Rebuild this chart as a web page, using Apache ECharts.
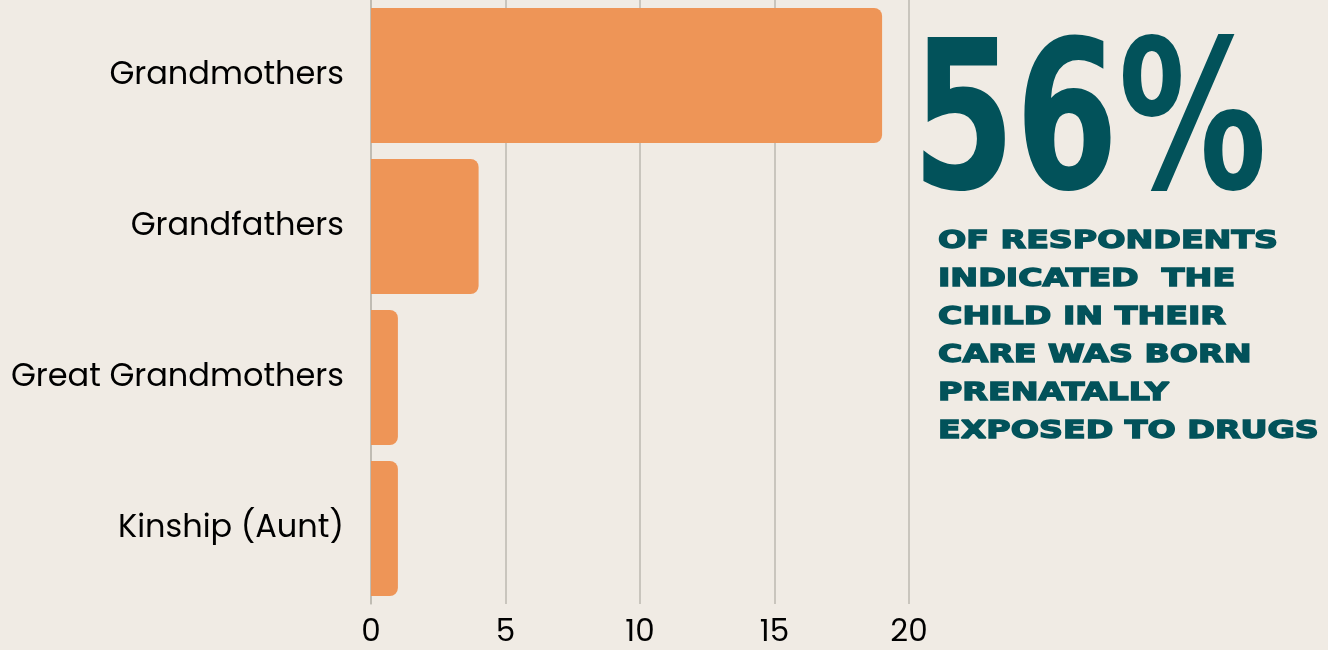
<!DOCTYPE html>
<html>
<head>
<meta charset="utf-8">
<script src="https://cdn.jsdelivr.net/npm/echarts@6/dist/echarts.min.js"></script>
<style>
  html, body { margin: 0; padding: 0; background: #f0ebe4; }
  #chart { width: 1328px; height: 650px; }
</style>
</head>
<body>
<div id="chart"></div>
<script>
const categories = ['Grandmothers', 'Grandfathers', 'Great Grandmothers', 'Kinship (Aunt)']
const counts = [19, 4, 1, 1]
const xTicks = [0, 5, 10, 15, 20]
const bigStat = '56%'
const statLines = [
  'OF RESPONDENTS',
  'INDICATED  THE',
  'CHILD IN THEIR',
  'CARE WAS BORN',
  'PRENATALLY',
  'EXPOSED TO DRUGS'
]

const chart = echarts.init(document.getElementById('chart'))

const option = {
  backgroundColor: '#f0ebe4',
  animation: false,
  grid: {
    left: 371,
    right: 419,
    top: 0,
    bottom: 46
  },
  xAxis: {
    type: 'value',
    min: xTicks[0],
    max: xTicks[xTicks.length - 1],
    interval: 5,
    axisLine: { show: false },
    axisTick: { show: false },
    axisLabel: {
      color: '#000',
      fontFamily: 'Poppins, "Noto Sans", sans-serif',
      fontSize: 31,
      margin: 14
    },
    splitLine: {
      show: true,
      lineStyle: { color: '#bcb8b1', width: 1.5 }
    }
  },
  yAxis: {
    type: 'category',
    inverse: true,
    data: categories,
    axisLine: { show: true, lineStyle: { color: '#bcb8b1', width: 1.5 } },
    axisTick: { show: false },
    axisLabel: {
      color: '#000',
      fontFamily: 'Poppins, "Noto Sans", sans-serif',
      fontSize: 32,
      margin: 27,
      padding: [5, 0, 0, 0]
    }
  },
  series: [{
    type: 'bar',
    data: counts,
    barCategoryGap: '10.6%',
    itemStyle: {
      color: '#ee9557',
      borderRadius: [0, 8, 8, 0]
    }
  }],
  graphic: [
    {
      type: 'text',
      x: 912,
      y: 31,
      scaleX: 0.8,
      style: {
        text: bigStat,
        fill: '#02525a',
        font: 'bold 206px "DejaVu Sans Condensed", "DejaVu Sans", sans-serif'
      }
    },
    {
      type: 'text',
      x: 938,
      y: 222,
      scaleX: 1.33,
      style: {
        text: statLines.join('\n'),
        fill: '#02525a',
        stroke: '#02525a',
        lineWidth: 1.4,
        lineHeight: 38,
        font: 'bold 25px "DejaVu Sans", sans-serif'
      }
    }
  ]
}

chart.setOption(option)
</script>
</body>
</html>
